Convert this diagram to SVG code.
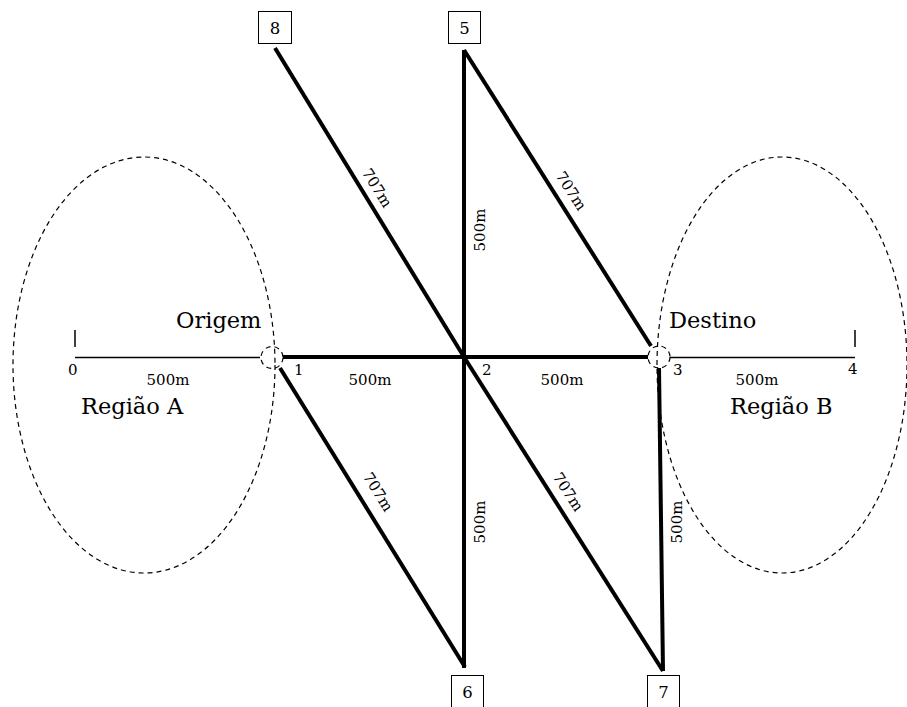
<svg xmlns="http://www.w3.org/2000/svg" width="907" height="707" viewBox="0 0 907 707">
<style>
text{font-family:"DejaVu Serif","Liberation Serif",serif;fill:#000}
.big{font-size:22.5px}
.num{font-size:15px}
.bn{font-size:16.5px;text-anchor:middle}
.lab{font-size:15px;text-anchor:middle}
.heavy{stroke:#000;stroke-width:4;fill:none;stroke-linecap:butt}
.thin{stroke:#000;stroke-width:1.5;fill:none}
.dash{stroke:#000;stroke-width:1.2;fill:none;stroke-dasharray:5,4}
.box{fill:#fff;stroke:#000;stroke-width:1}
</style>
<rect width="907" height="707" fill="#fff"/>
<g id="regions">
<ellipse class="dash" cx="144" cy="365" rx="131" ry="208"/>
<ellipse class="dash" cx="782" cy="365" rx="125" ry="208"/>
<text class="big" x="81" y="414">Região A</text>
<text class="big" x="730" y="414">Região B</text>
</g>
<g id="connectors">
<line class="thin" x1="75" y1="357.5" x2="260" y2="357.5"/>
<line class="thin" x1="75" y1="330" x2="75" y2="347"/>
<line class="thin" x1="670" y1="357.5" x2="855" y2="357.5"/>
<line class="thin" x1="855" y1="330" x2="855" y2="347"/>
<line class="heavy" x1="283" y1="357" x2="648" y2="357"/>
<line class="heavy" x1="275" y1="48" x2="464" y2="357"/>
<line class="heavy" x1="464" y1="357" x2="663" y2="671"/>
<line class="heavy" x1="464" y1="50" x2="464" y2="668"/>
<line class="heavy" x1="464" y1="50" x2="651" y2="346"/>
<line class="heavy" x1="280" y1="368" x2="465" y2="667"/>
<line class="heavy" x1="659" y1="368" x2="663" y2="671"/>
</g>
<g id="labels">
<text class="lab" x="168" y="385">500m</text>
<text class="lab" x="370" y="385">500m</text>
<text class="lab" x="562" y="385">500m</text>
<text class="lab" x="757" y="385">500m</text>
<text class="lab" transform="translate(377,188) rotate(58)" dy="5">707m</text>
<text class="lab" transform="translate(571,191) rotate(57)" dy="5">707m</text>
<text class="lab" transform="translate(378,492) rotate(58)" dy="5">707m</text>
<text class="lab" transform="translate(568,492) rotate(57)" dy="5">707m</text>
<text class="lab" transform="translate(480,230) rotate(-90)" dy="5">500m</text>
<text class="lab" transform="translate(480,522) rotate(-90)" dy="5">500m</text>
<text class="lab" transform="translate(677,522) rotate(-90)" dy="5">500m</text>
</g>
<g id="n0"><text class="num" x="68" y="375">0</text></g>
<g id="n1">
<circle class="dash" cx="272" cy="357.5" r="11" fill="#fff"/>
<text class="num" x="294" y="375">1</text>
<text class="big" x="176" y="328">Origem</text>
</g>
<g id="n2"><text class="num" x="482" y="375">2</text></g>
<g id="n3">
<circle class="dash" cx="659" cy="357" r="11" fill="#fff"/>
<text class="num" x="673" y="375">3</text>
<text class="big" x="669" y="328">Destino</text>
</g>
<g id="n4"><text class="num" x="848" y="374">4</text></g>
<g id="n5"><rect class="box" x="448.5" y="11.5" width="32" height="32"/><text class="bn" x="464.5" y="33.5">5</text></g>
<g id="n6"><rect class="box" x="451.5" y="675.5" width="32" height="32"/><text class="bn" x="467.5" y="697.5">6</text></g>
<g id="n7"><rect class="box" x="647.5" y="675.5" width="32" height="32"/><text class="bn" x="663.5" y="697.5">7</text></g>
<g id="n8"><rect class="box" x="258.5" y="11.5" width="33" height="32"/><text class="bn" x="275" y="33.5">8</text></g>
</svg>
